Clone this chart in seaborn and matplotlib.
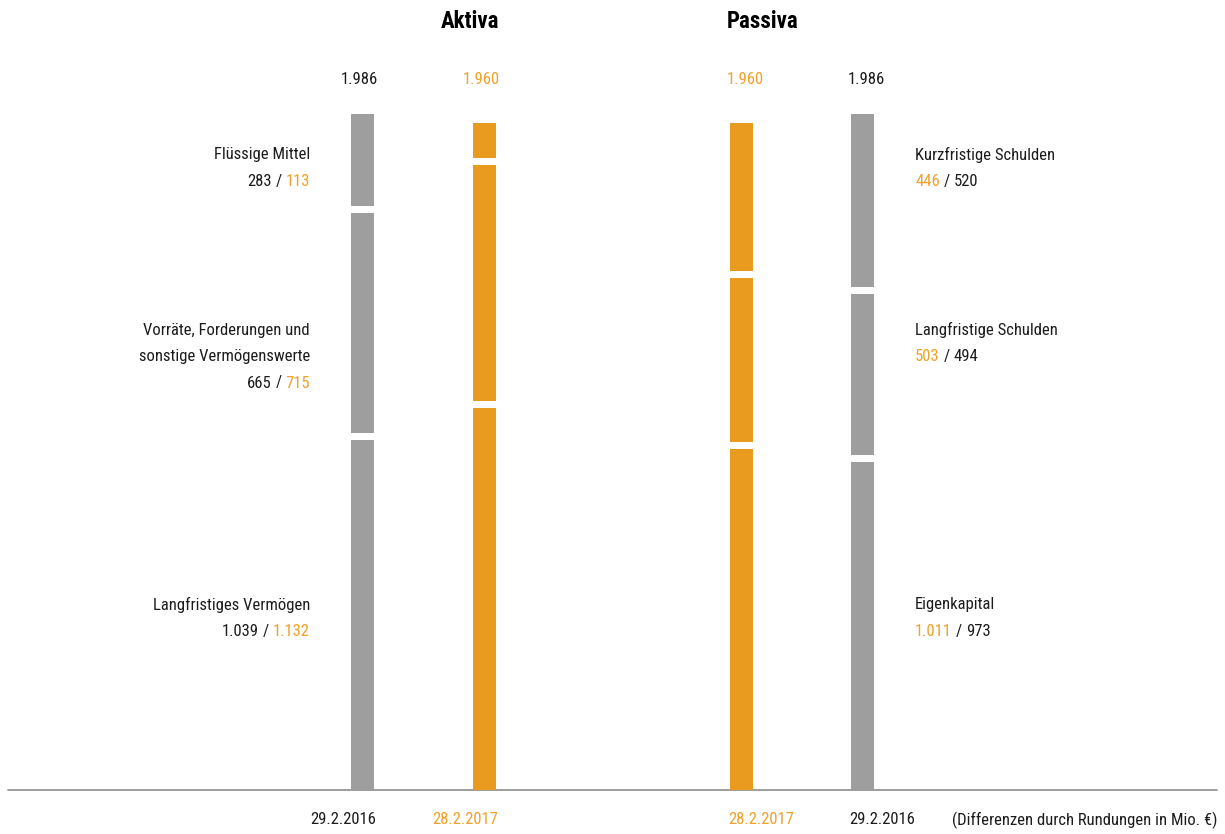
#!/usr/bin/env python3

import matplotlib
matplotlib.use("Agg")
from matplotlib import pyplot as plt
from matplotlib import font_manager
from matplotlib.transforms import IdentityTransform
import seaborn as sns

# Bilanz in Mio. €, segments listed bottom to top
aktiva_labels = [
    "Langfristiges Vermögen",
    "Vorräte, Forderungen und\nsonstige Vermögenswerte",
    "Flüssige Mittel",
]
aktiva_2016 = [1039, 665, 283]
aktiva_2017 = [1132, 715, 113]

passiva_labels = ["Eigenkapital", "Langfristige Schulden", "Kurzfristige Schulden"]
passiva_2017 = [1011, 503, 446]
passiva_2016 = [973, 494, 520]

total_2016 = 1986
total_2017 = 1960
date_2016 = "29.2.2016"
date_2017 = "28.2.2017"
note = "(Differenzen durch Rundungen in Mio. €)"

GRAY = "#9e9e9e"
ORANGE = "#e99b1f"
TXT_BLACK = "#1c1c1c"
TXT_ORANGE = "#efa12c"

W, H = 1225, 834
BASE = 790                       # pixel row of the zero line
SCALE = (BASE - 114) / total_2016  # pixels per Mio. €
GAP = 7 / SCALE                  # white gap between segments
BAR_W = 23
LINE = 26.5


def pick_font():
    """Look for a narrow sans face, the original uses a condensed font."""
    names = {f.name for f in font_manager.fontManager.ttflist}
    for cand in ["Liberation Sans Narrow", "Roboto Condensed",
                 "Noto Sans Condensed", "Open Sans Condensed",
                 "DejaVu Sans Condensed", "Arial Narrow"]:
        if cand in names:
            return cand, 12, 16.5
    for f in font_manager.fontManager.ttflist:
        if "condensed" in str(f.stretch).lower() and "Mono" not in f.name \
                and "Serif" not in f.name:
            return f.name, 12, 16.5
    return "Liberation Sans", 10.5, 14


FONT, FS, FS_TITLE = pick_font()


def fmt(v):
    return f"{v:,}".replace(",", ".")


def ptxt(fig, x, y, s, **kw):
    # x, y in pixels from the top left corner
    kw.setdefault("fontsize", FS)
    return fig.text(x, H - y, s, transform=IdentityTransform(), va="center",
                    stretch="condensed", **kw)


def pieces(fig, x, y, parts, ha, gap=4):
    renderer = fig.canvas.get_renderer()
    objs = [ptxt(fig, 0, y, s, color=c, ha="left") for s, c in parts]
    widths = [t.get_window_extent(renderer).width for t in objs]
    total = sum(widths) + gap * (len(objs) - 1)
    start = x - total if ha == "right" else x
    for t, w in zip(objs, widths):
        t.set_x(start)
        start += w + gap


def main():
    sns.set_theme(style="white")
    plt.rcParams["font.family"] = [FONT, "DejaVu Sans"]

    fig = plt.figure(figsize=(W / 100, H / 100), dpi=100)
    ax = fig.add_axes([0, 0, 1, 1])

    columns = [
        (aktiva_2016, total_2016, date_2016, GRAY, TXT_BLACK, 362.5, "right"),
        (aktiva_2017, total_2017, date_2017, ORANGE, TXT_ORANGE, 484.5, "right"),
        (passiva_2017, total_2017, date_2017, ORANGE, TXT_ORANGE, 741.5, "left"),
        (passiva_2016, total_2016, date_2016, GRAY, TXT_BLACK, 862.5, "left"),
    ]

    for values, total, date, color, tcolor, xc, side in columns:
        cum = 0
        n = len(values)
        for i, v in enumerate(values):
            lo = cum + (GAP / 2 if i > 0 else 0)
            hi = cum + v - (GAP / 2 if i < n - 1 else 0)
            sns.barplot(
                x=[xc], y=[hi - lo], bottom=lo, native_scale=True,
                width=BAR_W, color=color, saturation=1, linewidth=0,
                errorbar=None, ax=ax,
            )
            cum += v
        if side == "right":
            ptxt(fig, xc - 3, 79, fmt(total), color=tcolor, ha="center")
            ptxt(fig, xc + BAR_W / 2 + 2, 820, date, color=tcolor, ha="right")
        else:
            ptxt(fig, xc + 3.5, 79, fmt(total), color=tcolor, ha="center")
            ptxt(fig, xc - BAR_W / 2 - 2, 820, date, color=tcolor, ha="left")

    ax.set_xlim(0, W)
    ax.set_ylim(-(H - BASE) / SCALE, BASE / SCALE)
    ax.axhline(0, xmin=8 / W, xmax=1217 / W, color="#8c8c8c", lw=1.2, zorder=0)
    ax.set_axis_off()

    # headings
    ptxt(fig, 470, 21, "Aktiva", color="black", fontsize=FS_TITLE,
         fontweight="bold", ha="center")
    ptxt(fig, 763, 21, "Passiva", color="black", fontsize=FS_TITLE,
         fontweight="bold", ha="center")

    # segment labels, first line y in pixels
    label_rows = [605, 330, 155]
    for lab, v16, v17, y in zip(aktiva_labels, aktiva_2016, aktiva_2017, label_rows):
        lines = lab.split("\n")
        for k, line in enumerate(lines):
            ptxt(fig, 310, y + k * LINE, line, color=TXT_BLACK, ha="right")
        pieces(fig, 310, y + len(lines) * LINE,
               [(fmt(v16), TXT_BLACK), ("/", TXT_BLACK), (fmt(v17), TXT_ORANGE)],
               "right")
    for lab, v17, v16, y in zip(passiva_labels, passiva_2017, passiva_2016, label_rows):
        ptxt(fig, 915, y, lab, color=TXT_BLACK, ha="left")
        pieces(fig, 915, y + LINE,
               [(fmt(v17), TXT_ORANGE), ("/", TXT_BLACK), (fmt(v16), TXT_BLACK)],
               "left")

    ptxt(fig, 1217, 820, note, color=TXT_BLACK, ha="right")

    plt.savefig("out.png", dpi=100)


if __name__ == "__main__":
    main()
